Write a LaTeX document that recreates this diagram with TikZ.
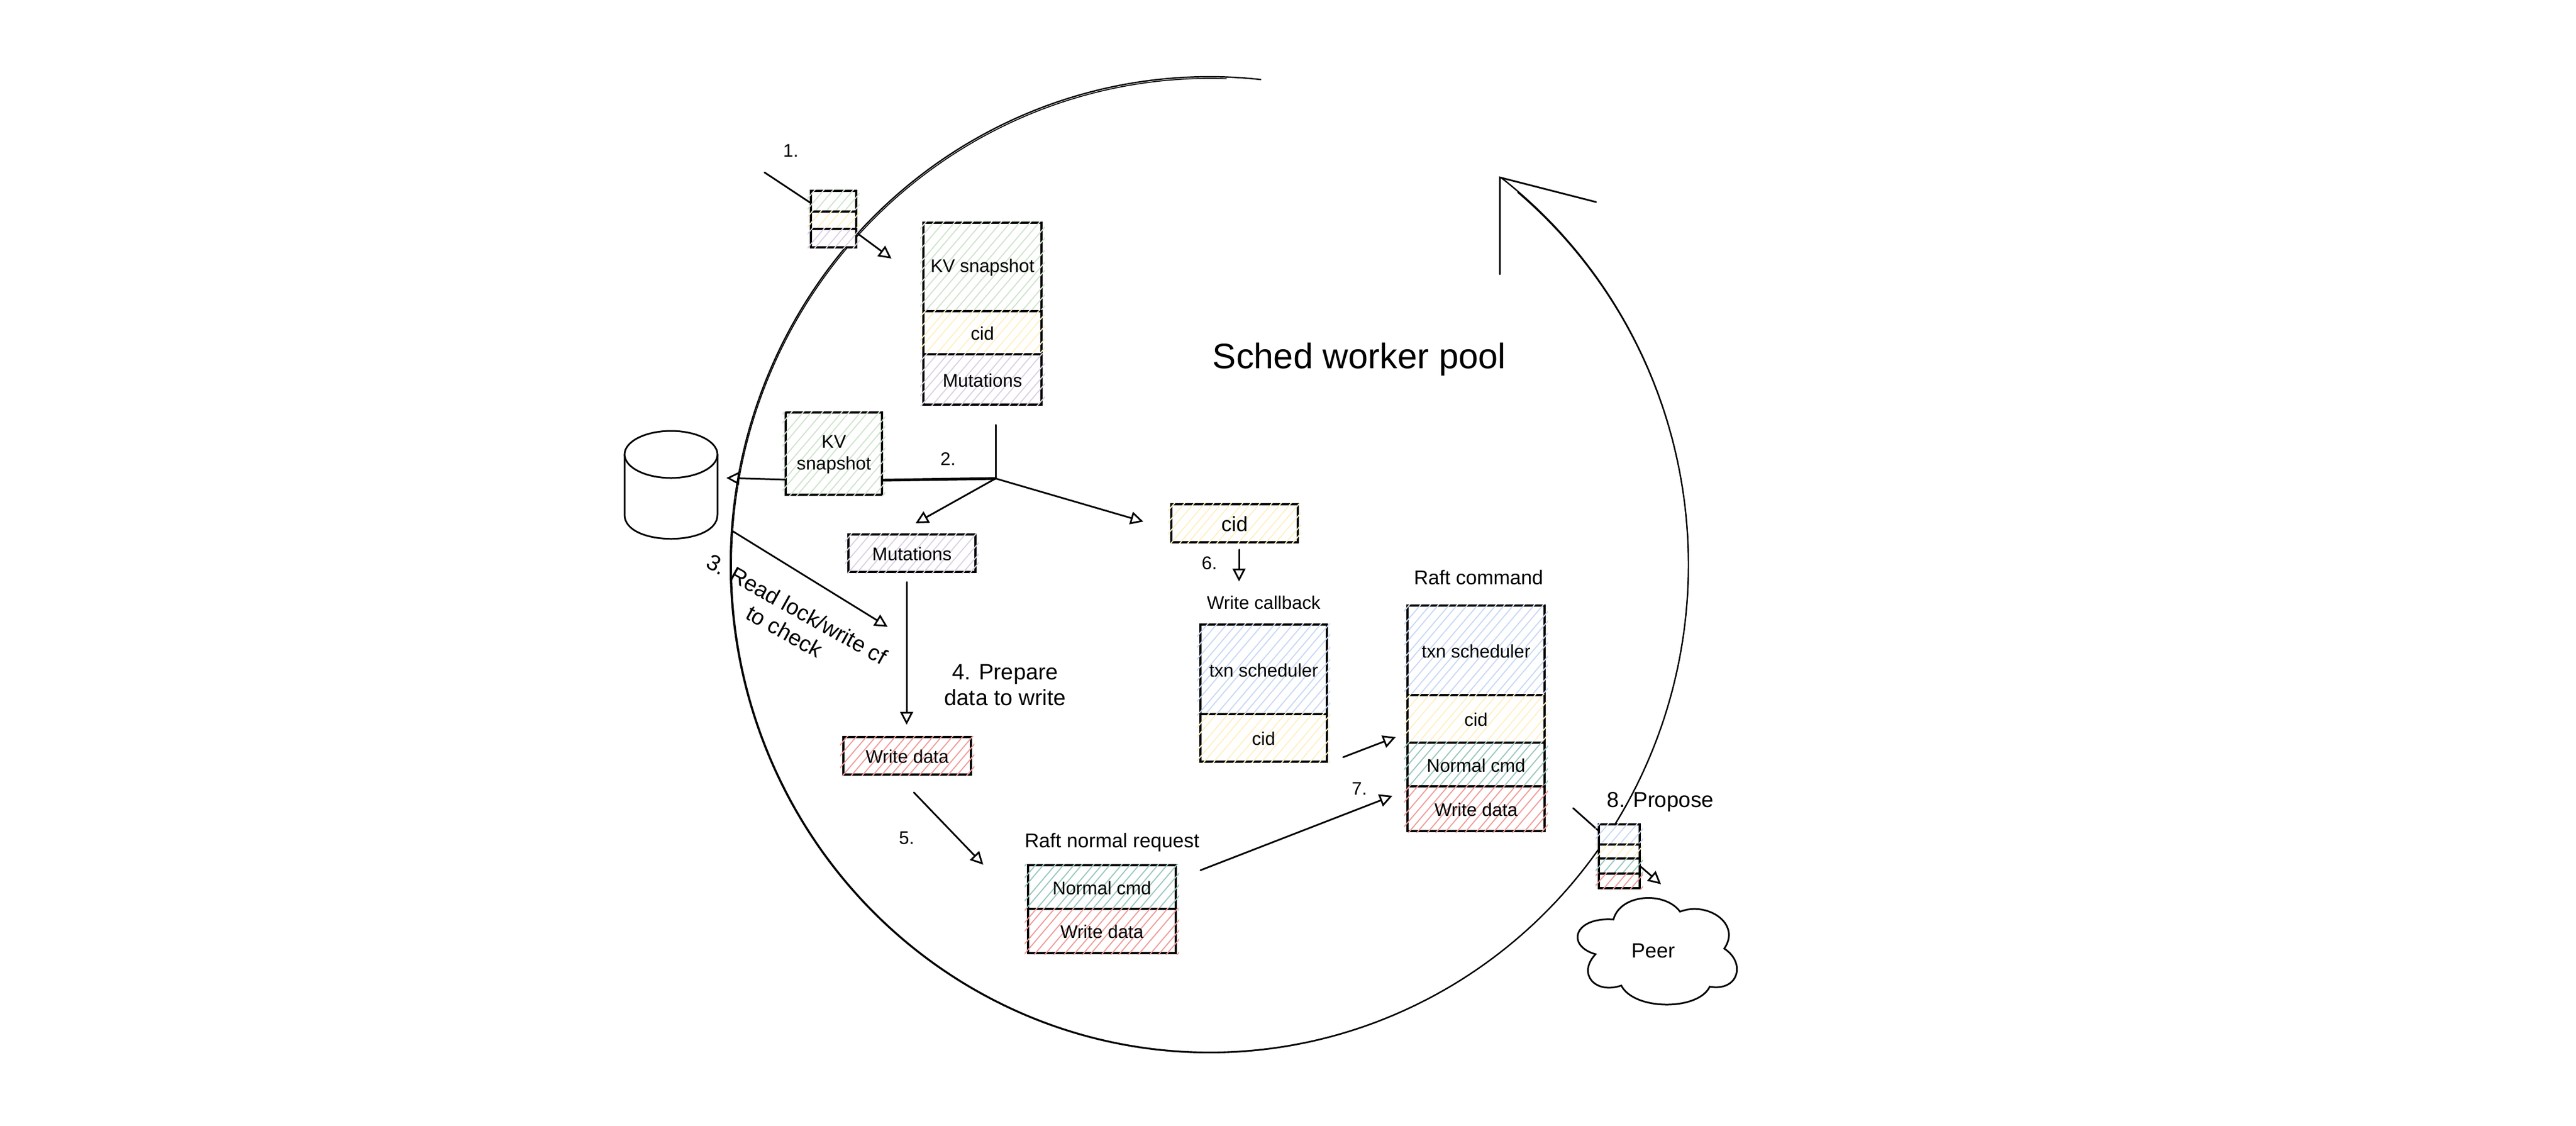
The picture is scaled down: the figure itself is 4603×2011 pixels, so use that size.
\documentclass[tikz,border=0pt]{standalone}
\usepackage{fontspec}
\setmainfont{Liberation Sans}
\usetikzlibrary{arrows.meta}
\definecolor{hgreen}{HTML}{CFE5CC}
\definecolor{hyellow}{HTML}{FFF0C4}
\definecolor{hpurple}{HTML}{DDD0E6}
\definecolor{hblue}{HTML}{C9D9F4}
\definecolor{hteal}{HTML}{9AC7BF}
\definecolor{hred}{HTML}{F19C99}
\tikzset{
  boxline/.style={draw=black,line width=1.05pt},
  hatchline/.style={line width=0.55pt},
  celltext/.style={inner sep=0pt,outer sep=0pt,align=center,yshift=-0.015cm,font=\fontsize{9.3}{11}\selectfont},
  lab/.style={inner sep=0pt,align=center,font=\fontsize{#1}{13}\selectfont},
  lab/.default=9.3,
  con/.style={line width=0.85pt,line cap=round,draw=black},
  arr/.style={con,-{Triangle[open,length=6.5pt,width=6.5pt,line width=0.85pt]}},
  ring/.style={line width=0.7pt,draw=black}
}
\newcommand{\cellnode}[7]{%
  \pgfmathsetmacro\cw{#4-#2}\pgfmathsetmacro\ch{#5-#3}%
  \pgfmathsetmacro\cx{(#2+#4)/2}\pgfmathsetmacro\cy{(#3+#5)/2}%
  \fill[white] (#2,#3) rectangle (#4,#5);
  \draw[boxline] (#2,#3) rectangle (#4,#5);
  \begin{scope}
    \clip ({#2-6},{#3-2}) rectangle ({#4+6},{#5+2});
    \foreach \hi in {-24,...,24}{
      \pgfmathsetmacro\ho{\cx+\hi*17+rnd*5-2.5}
      \draw[hatchline,#6] ({\ho-170},{\cy+200}) -- ({\ho+170},{\cy-200});
    }
  \end{scope}
  \node[celltext] (#1) at (\cx,\cy) {#7};%
}
\begin{document}
\begin{tikzpicture}[x=0.01cm,y=-0.01cm]
\pgfmathsetseed{4211}
\useasboundingbox (0,0) rectangle (4603,2011);
\fill[white] (0,0) rectangle (4603,2011);

% big ring with arrow head
\draw[ring] plot[domain=83.8:412.4,samples=240,smooth] ({2161+856*cos(\x)},{1009-872*sin(\x)});
\draw[ring,line width=0.5pt] plot[domain=88:410,samples=240,smooth] ({2162+855*cos(\x)},{1010-870*sin(\x)});
\coordinate (headL) at (2680,490);
\coordinate (headT) at (2680,317);
\coordinate (headR) at (2852,361);
\draw[con] (headL) -- (headT) -- (headR);

% input stack
\coordinate (inA) at (1366,308);
\coordinate (inB) at (1449,363);
\draw[con] (inA) -- (inB);
\cellnode{s1a}{1449}{341}{1530}{378}{hgreen}{}
\cellnode{s1b}{1449}{378}{1530}{409}{hyellow}{}
\cellnode{s1c}{1449}{409}{1530}{442}{hpurple}{}
\node[lab] (n1) at (1413,269) {1.};
\coordinate (a1a) at (1532,417);
\coordinate (a1b) at (1593,462);
\draw[arr] (a1a) -- (a1b);

% request
\cellnode{kv}{1650}{398}{1861}{556}{hgreen}{\raisebox{-0.05cm}{KV snapshot}}
\cellnode{cidA}{1650}{556}{1861}{633}{hyellow}{cid}
\cellnode{mutA}{1650}{633}{1861}{723}{hpurple}{Mutations}

% kv snapshot and branch
\cellnode{kvB}{1404}{737}{1576}{884}{hgreen}{KV\\snapshot}
\coordinate (jn) at (1779,855);
\coordinate (jtop) at (1779,759);
\coordinate (jleft) at (1577,858);
\coordinate (jout) at (1403,857);
\coordinate (dbend) at (1298,854);
\coordinate (toMut) at (1636,935);
\coordinate (toCid) at (2043,932);
\draw[con] (jtop) -- (jn);
\draw[con,line width=1.4pt] (jleft) -- (jn);
\draw[arr] (jout) -- (dbend);
\draw[arr] (jn) -- (toMut);
\draw[arr] (jn) -- (toCid);
\node[lab] (n2) at (1694,820) {2.};

% database
\draw[con,fill=white] (1116,812) -- (1116,920) .. controls (1116,977) and (1282,977) .. (1282,920) -- (1282,812);
\draw[con,fill=white] (1199,812) ellipse [x radius=83,y radius=42];

% step 3
\coordinate (a3a) at (1309,949);
\coordinate (a3b) at (1586,1120);
\draw[arr] (a3a) -- (a3b);
\node[lab=11.3,rotate=-29.2] (n3) at (1413,1108) {3. Read lock/write cf\\to check};

% mutations -> write data
\cellnode{mutB}{1516}{955}{1743}{1022}{hpurple}{Mutations}
\coordinate (a4a) at (1620,1040);
\coordinate (a4b) at (1620,1295);
\draw[arr] (a4a) -- (a4b);
\node[lab=11.3] (n4) at (1796,1224) {4. Prepare\\data to write};
\cellnode{wdA}{1507}{1317}{1735}{1384}{hred}{Write data}
\coordinate (a5a) at (1633,1416);
\coordinate (a5b) at (1757,1545);
\draw[arr] (a5a) -- (a5b);
\node[lab] (n5) at (1620,1497) {5.};

% raft normal request
\node[lab=10.1] (rnr) at (1987,1505) {Raft normal request};
\cellnode{ncA}{1837}{1546}{2101}{1624}{hteal}{Normal cmd}
\cellnode{wdB}{1837}{1624}{2101}{1703}{hred}{Write data}

% cid and write callback
\cellnode{cidB}{2093}{901}{2319}{969}{hyellow}{\fontsize{10.5}{12}\selectfont cid}
\coordinate (a6a) at (2214,982);
\coordinate (a6b) at (2214,1039);
\draw[arr] (a6a) -- (a6b);
\node[lab] (n6) at (2161,1006) {6.};
\node[lab] (wcb) at (2258,1077) {Write callback};
\cellnode{tsA}{2145}{1116}{2371}{1276}{hblue}{txn scheduler}
\cellnode{cidC}{2145}{1276}{2371}{1361}{hyellow}{cid}

% step 7
\coordinate (a7a) at (2400,1353);
\coordinate (a7b) at (2494,1317);
\coordinate (a7c) at (2145,1555);
\coordinate (a7d) at (2488,1422);
\draw[arr] (a7a) -- (a7b);
\draw[arr] (a7c) -- (a7d);
\node[lab] (n7) at (2429,1409) {7.};

% raft command
\node[lab=10.1] (rc) at (2642,1032) {Raft command};
\cellnode{tsB}{2515}{1082}{2760}{1242}{hblue}{txn scheduler}
\cellnode{cidD}{2515}{1242}{2760}{1327}{hyellow}{cid}
\cellnode{ncB}{2515}{1327}{2760}{1405}{hteal}{Normal cmd}
\cellnode{wdC}{2515}{1405}{2760}{1485}{hred}{Write data}

% propose stack
\coordinate (ppA) at (2811,1444);
\coordinate (ppB) at (2857,1485);
\draw[con] (ppA) -- (ppB);
\cellnode{s2a}{2857}{1473}{2930}{1509}{hblue}{}
\cellnode{s2b}{2857}{1509}{2930}{1534}{hyellow}{}
\cellnode{s2c}{2857}{1534}{2930}{1561}{hteal}{}
\cellnode{s2d}{2857}{1561}{2930}{1587}{hred}{}
\coordinate (a8a) at (2930,1547);
\coordinate (a8b) at (2968,1580);
\draw[arr] (a8a) -- (a8b);
\node[lab=11] (n8) at (2967,1433) {8. Propose};

% peer cloud
\draw[con] (2883,1643) .. controls (2895,1597) and (2975,1592) .. (3002,1629)
  .. controls (3050,1610) and (3112,1650) .. (3081,1695)
  .. controls (3120,1720) and (3107,1772) .. (3055,1763)
  .. controls (3035,1806) and (2920,1806) .. (2897,1761)
  .. controls (2850,1777) and (2818,1740) .. (2851,1705)
  .. controls (2798,1690) and (2812,1638) .. (2883,1643) -- cycle;
\node[lab=10.5] (peer) at (2954,1699) {Peer};

% title
\node[lab=18] (title) at (2429,642) {Sched worker pool};
\end{tikzpicture}
\end{document}
